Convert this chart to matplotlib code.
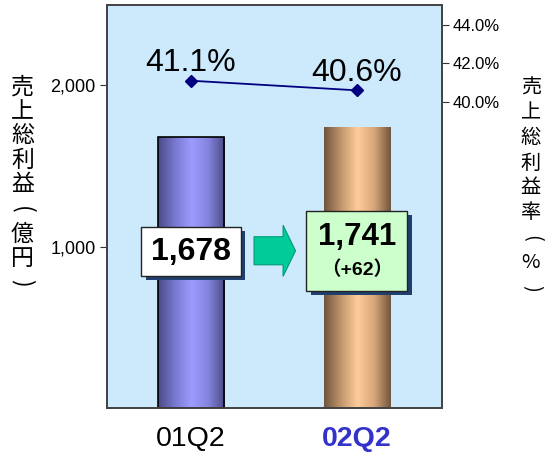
import matplotlib
matplotlib.use("Agg")
import matplotlib.pyplot as plt
import matplotlib.patheffects as pe
from matplotlib.patches import FancyArrow
from matplotlib.offsetbox import TextArea, VPacker, AnnotationBbox
import numpy as np

plt.rcParams['font.family'] = ['Liberation Sans', 'Noto Sans CJK JP', 'DejaVu Sans']

# data
quarters = ['01Q2', '02Q2']
gross_profit = [1678, 1741]      # 億円
margin = [41.1, 40.6]            # %
diff_label = '（+62）'

fig = plt.figure(figsize=(5.5, 4.54), dpi=100)
ax = fig.add_axes([0.1945, 0.1013, 0.609, 0.888])
ax.set_facecolor('#cdeafd')
x = np.arange(len(quarters))

# gradient cylinder bars
grad_cols = [['#4a4a85', '#7878d0', '#9c9cff', '#8585e0', '#4a4a85'],
             ['#70553d', '#c0956b', '#ffcc99', '#d8a67a', '#70553d']]
bars = ax.bar(x, gross_profit, width=0.4, color='none', zorder=2)
for b, cols, ec in zip(bars, grad_cols, ['black', 'none']):
    cmap = matplotlib.colors.LinearSegmentedColormap.from_list('g', cols)
    g = np.linspace(0, 1, 256).reshape(1, -1)
    im = ax.imshow(g, cmap=cmap, aspect='auto', zorder=2,
                   extent=[b.get_x(), b.get_x() + b.get_width(), 0, b.get_height()])
    im.set_clip_path(b)
    b.set_edgecolor(ec)
    b.set_linewidth(1.2)
    b.set_zorder(3)

ax.set_xlim(-0.506, 1.512)
ax.set_ylim(0, 2500)
ax.set_yticks([1000, 2000])
ax.set_yticklabels(['1,000', '2,000'], fontsize=13)
ax.set_xticks(x)
ax.set_xticklabels(quarters, fontsize=20.5)
ax.tick_params(axis='x', length=0, pad=13)
ax.tick_params(axis='y', length=5, color='#333333', pad=3)
lbls = ax.get_xticklabels()
lbls[1].set_color('#3333cc')
lbls[1].set_fontweight('bold')

# margin line on right axis
ax2 = ax.twinx()
ax2.plot(x, margin, color='#000080', marker='D', markersize=6, linewidth=1.3, zorder=5)
ax2.set_ylim(24.1, 45.04)
ax2.set_yticks([40, 42, 44])
ax2.set_yticklabels(['%.1f%%' % v for v in [40, 42, 44]], fontsize=12)
ax2.tick_params(axis='y', length=5, color='#333333', pad=3)
for xi, m in zip(x, margin):
    ax2.annotate('%.1f%%' % m, (xi, m), xytext=(0, 2), textcoords='offset points',
                 ha='center', va='bottom', fontsize=23)

for a in (ax, ax2):
    for s in a.spines.values():
        s.set_color('#444444')
        s.set_linewidth(1.3)

# value boxes
shadow = [pe.withSimplePatchShadow(offset=(3, -3), shadow_rgbFace='#1f3f6f', alpha=1)]
t1 = ax.text(x[0], 969, '{:,}'.format(gross_profit[0]), ha='center', va='center',
             fontsize=23, fontweight='bold', zorder=6,
             bbox=dict(boxstyle='square,pad=0.3', fc='white', ec='#222222', lw=1))
t1.get_bbox_patch().set_path_effects(shadow)

box2 = VPacker(children=[
    TextArea('{:,}'.format(gross_profit[1]),
             textprops=dict(fontsize=22.5, fontweight='bold')),
    TextArea(diff_label, textprops=dict(fontsize=14, fontweight='bold')),
], align='center', pad=0, sep=6)
ab = AnnotationBbox(box2, (x[1], 975), frameon=True, zorder=6,
                    bboxprops=dict(boxstyle='square,pad=0.82', fc='#ccffcc',
                                   ec='#222222', lw=1))
ax.add_artist(ab)
ab.patch.set_path_effects(shadow)

arrow = FancyArrow(0.38, 975, 0.25, 0, width=174, head_width=317, head_length=0.075,
                   length_includes_head=True, fc='#00cc99', ec='#009977', lw=0.8, zorder=6)
ax.add_patch(arrow)

# vertical axis titles, one character at a time (brackets turned for vertical writing)
left_title = '売上総利益(億円)'
right_title = '売上総利益率(%)'
cjk = ['Noto Sans CJK JP', 'DejaVu Sans']
for i, ch in enumerate(left_title):
    rot = -90 if ch in '()' else 0
    fig.text(22.5 / 550, 1 - (87 + 24.5 * i) / 454, ch, ha='center', va='center',
             fontsize=16.5, rotation=rot, family=cjk)
for i, ch in enumerate(right_title):
    rot = -90 if ch in '()' else 0
    fig.text(531 / 550, 1 - (88 + 25 * i) / 454, ch, ha='center', va='center',
             fontsize=14.5, rotation=rot, family=cjk)

fig.savefig('out.png', dpi=100)
